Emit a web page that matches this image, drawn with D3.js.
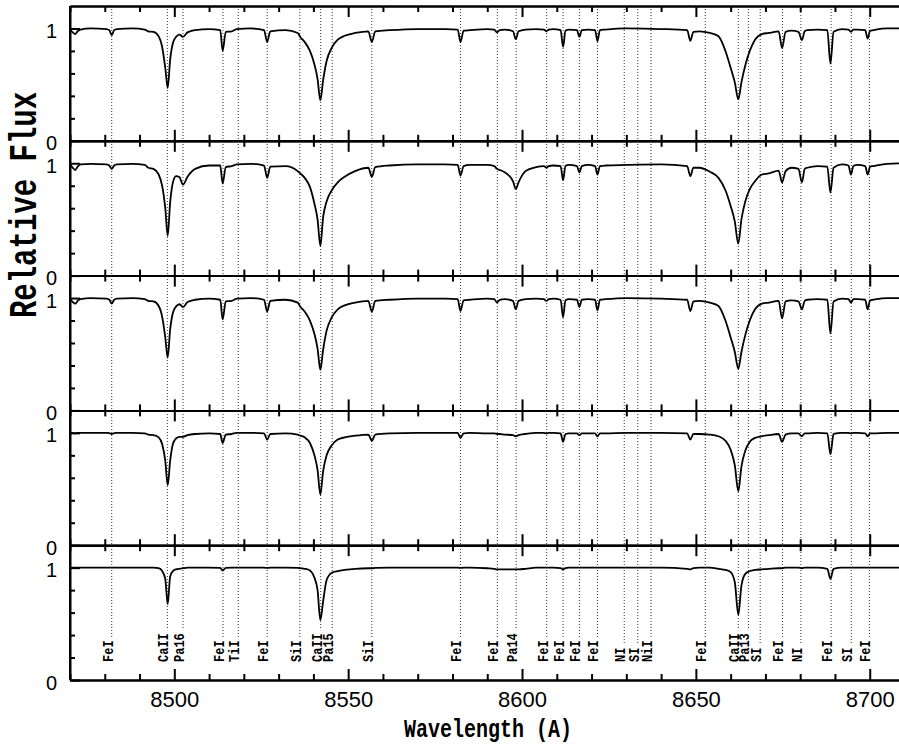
<!DOCTYPE html>
<html>
<head>
<meta charset="UTF-8">
<script src="https://d3js.org/d3.v7.min.js"></script>
<style>
  body { margin: 0; background: #fff; }
  .axis path, .axis line { stroke: #000; stroke-width: 2; }
  .axis text { font-family: "Liberation Sans", Arial, sans-serif; fill: #000; }
</style>
</head>
<body>
<svg id="chart" width="899" height="747"></svg>
<script>
// wavelength grid (A), shared by all five spectra
var wave = [8470, 8470.8, 8471.5, 8472.2, 8473, 8476, 8480.5, 8481.3, 8482, 8482.7,
  8483.5, 8488, 8491.5, 8492.5, 8494, 8495.5, 8496.5, 8497.4, 8498.1, 8498.8,
  8499.6, 8500.5, 8501.5, 8502.5, 8503.8, 8506, 8510, 8513.2, 8513.9, 8514.8,
  8516.5, 8518, 8522, 8525.8, 8526.7, 8527.6, 8532, 8535.5, 8536.2, 8537.5,
  8539, 8540.3, 8541.2, 8542, 8542.8, 8543.8, 8545.3, 8547, 8549, 8552,
  8555.8, 8556.8, 8557.8, 8562, 8570, 8578, 8581.5, 8582.3, 8583.2, 8585,
  8590, 8592, 8592.8, 8593.6, 8595, 8597.4, 8598.2, 8599, 8601, 8604,
  8606.3, 8607, 8607.7, 8609, 8611.1, 8611.8, 8612.5, 8613.5, 8615.8, 8616.5,
  8617.2, 8619, 8621, 8621.7, 8622.4, 8624, 8630, 8640, 8647.5, 8648.4,
  8649.3, 8651, 8654, 8656.5, 8658.5, 8660, 8661.2, 8662.2, 8663.1, 8664.2,
  8665.5, 8667, 8669, 8671, 8673.8, 8674.8, 8675.8, 8677.5, 8679.5, 8680.5,
  8681.3, 8682, 8685, 8687.8, 8688.7, 8689.6, 8692, 8693.9, 8694.6, 8695.3,
  8696.5, 8698.7, 8699.4, 8700.1, 8701, 8705, 8710];

// relative flux, top panel to bottom panel
var flux1 = [0.99, 0.965, 0.95, 0.975, 0.99, 1.0, 0.995, 0.985, 0.94, 0.985,
  0.995, 1.0, 0.99, 0.975, 0.97, 0.93, 0.835, 0.65, 0.47, 0.72,
  0.87, 0.925, 0.945, 0.925, 0.965, 0.985, 0.995, 0.985, 0.8, 0.97,
  0.975, 0.995, 1.0, 0.985, 0.88, 0.975, 0.985, 0.96, 0.925, 0.88,
  0.8, 0.68, 0.55, 0.36, 0.54, 0.71, 0.83, 0.9, 0.935, 0.96,
  0.975, 0.88, 0.975, 0.985, 0.995, 0.995, 0.99, 0.88, 0.98, 0.985,
  0.995, 0.99, 0.965, 0.985, 0.99, 0.975, 0.905, 0.975, 0.99, 0.995,
  0.99, 0.975, 0.99, 0.995, 0.985, 0.836, 0.98, 0.99, 0.985, 0.925,
  0.985, 0.99, 0.985, 0.887, 0.985, 0.99, 1.0, 0.995, 0.985, 0.89,
  0.97, 0.975, 0.96, 0.93, 0.8, 0.65, 0.52, 0.37, 0.52, 0.67,
  0.8, 0.9, 0.95, 0.96, 0.975, 0.827, 0.97, 0.98, 0.97, 0.896,
  0.975, 0.985, 0.99, 0.985, 0.687, 0.97, 0.995, 0.99, 0.97, 0.99,
  0.99, 0.985, 0.91, 0.98, 0.985, 1.0, 1.0];

var flux2 = [0.99, 0.96, 0.94, 0.97, 0.99, 0.995, 0.99, 0.98, 0.95, 0.98,
  0.99, 0.995, 0.985, 0.96, 0.95, 0.9, 0.8, 0.6, 0.353, 0.65,
  0.83, 0.885, 0.875, 0.81, 0.88, 0.95, 0.98, 0.98, 0.82, 0.965,
  0.975, 0.99, 0.995, 0.98, 0.87, 0.97, 0.975, 0.93, 0.91, 0.87,
  0.79, 0.64, 0.5, 0.264, 0.52, 0.66, 0.76, 0.83, 0.88, 0.93,
  0.96, 0.88, 0.965, 0.98, 0.99, 0.99, 0.985, 0.89, 0.975, 0.985,
  0.985, 0.975, 0.95, 0.94, 0.92, 0.84, 0.77, 0.83, 0.93, 0.965,
  0.975, 0.96, 0.975, 0.98, 0.975, 0.85, 0.975, 0.985, 0.975, 0.92,
  0.975, 0.985, 0.975, 0.9, 0.975, 0.98, 0.985, 0.99, 0.975, 0.885,
  0.96, 0.96, 0.925, 0.87, 0.76, 0.62, 0.48, 0.285, 0.5, 0.66,
  0.77, 0.84, 0.9, 0.91, 0.935, 0.83, 0.93, 0.96, 0.95, 0.83,
  0.95, 0.96, 0.975, 0.97, 0.74, 0.96, 0.99, 0.98, 0.9, 0.975,
  0.985, 0.975, 0.9, 0.97, 0.975, 0.995, 1.0];

var flux3 = [0.99, 0.965, 0.95, 0.975, 0.99, 1.0, 0.995, 0.985, 0.95, 0.985,
  0.995, 1.0, 0.99, 0.975, 0.97, 0.93, 0.835, 0.65, 0.47, 0.72,
  0.87, 0.925, 0.945, 0.92, 0.965, 0.985, 0.995, 0.985, 0.81, 0.97,
  0.975, 0.995, 1.0, 0.985, 0.88, 0.975, 0.985, 0.96, 0.925, 0.88,
  0.8, 0.68, 0.55, 0.362, 0.54, 0.71, 0.83, 0.9, 0.935, 0.96,
  0.975, 0.88, 0.975, 0.985, 0.995, 0.995, 0.99, 0.885, 0.98, 0.985,
  0.995, 0.99, 0.96, 0.985, 0.99, 0.975, 0.9, 0.975, 0.99, 0.995,
  0.99, 0.975, 0.99, 0.995, 0.985, 0.83, 0.98, 0.99, 0.985, 0.92,
  0.985, 0.99, 0.985, 0.89, 0.985, 0.99, 1.0, 0.995, 0.985, 0.885,
  0.97, 0.975, 0.96, 0.93, 0.8, 0.65, 0.52, 0.37, 0.52, 0.67,
  0.8, 0.9, 0.95, 0.96, 0.975, 0.82, 0.97, 0.98, 0.97, 0.9,
  0.975, 0.985, 0.99, 0.985, 0.685, 0.97, 0.995, 0.99, 0.96, 0.99,
  0.99, 0.985, 0.9, 0.98, 0.985, 1.0, 1.0];

var flux4 = [1.0, 1.0, 0.995, 1.0, 1.0, 1.0, 1.0, 0.998, 0.99, 0.998,
  1.0, 1.0, 0.995, 0.985, 0.98, 0.96, 0.9, 0.75, 0.534, 0.75,
  0.9, 0.95, 0.965, 0.965, 0.98, 0.99, 0.995, 0.99, 0.91, 0.985,
  0.99, 1.0, 1.0, 0.995, 0.94, 0.99, 0.995, 0.985, 0.975, 0.96,
  0.91, 0.8, 0.67, 0.45, 0.66, 0.8, 0.89, 0.94, 0.96, 0.975,
  0.985, 0.93, 0.985, 0.995, 1.0, 1.0, 1.0, 0.955, 0.995, 1.0,
  0.995, 0.995, 0.99, 0.99, 0.985, 0.98, 0.97, 0.98, 0.99, 1.0,
  1.0, 0.995, 1.0, 1.0, 0.995, 0.92, 0.99, 0.995, 0.995, 0.98,
  0.995, 0.995, 0.995, 0.97, 0.995, 0.995, 1.0, 1.0, 0.995, 0.94,
  0.99, 0.99, 0.985, 0.97, 0.93, 0.85, 0.71, 0.48, 0.7, 0.84,
  0.92, 0.955, 0.97, 0.98, 0.99, 0.92, 0.985, 0.995, 0.995, 0.97,
  0.995, 0.995, 1.0, 0.995, 0.81, 0.99, 1.0, 1.0, 0.995, 1.0,
  1.0, 0.995, 0.97, 0.995, 0.995, 1.0, 1.0];

var flux5 = [1.0, 1.0, 1.0, 1.0, 1.0, 1.0, 1.0, 1.0, 1.0, 1.0,
  1.0, 1.0, 1.0, 1.0, 1.0, 0.995, 0.97, 0.9, 0.674, 0.92,
  0.97, 0.985, 0.99, 0.995, 1.0, 1.0, 1.0, 0.998, 0.975, 0.998,
  1.0, 1.0, 1.0, 1.0, 0.998, 1.0, 1.0, 0.998, 0.995, 0.99,
  0.975, 0.91, 0.8, 0.534, 0.7, 0.89, 0.955, 0.97, 0.98, 0.99,
  0.995, 0.995, 0.998, 1.0, 1.0, 1.0, 1.0, 0.998, 1.0, 1.0,
  0.995, 0.99, 0.985, 0.985, 0.985, 0.985, 0.985, 0.985, 0.99, 1.0,
  1.0, 1.0, 1.0, 1.0, 0.995, 0.985, 0.995, 1.0, 1.0, 1.0,
  1.0, 1.0, 1.0, 1.0, 1.0, 1.0, 1.0, 1.0, 0.99, 0.985,
  0.995, 1.0, 1.0, 0.99, 0.98, 0.96, 0.87, 0.58, 0.84, 0.945,
  0.97, 0.98, 0.985, 0.99, 0.995, 0.995, 1.0, 1.0, 1.0, 0.995,
  1.0, 1.0, 1.0, 0.99, 0.9, 0.99, 1.0, 1.0, 1.0, 1.0,
  1.0, 1.0, 1.0, 1.0, 1.0, 1.0, 1.0];

var spectra = [flux1, flux2, flux3, flux4, flux5];

// identified lines
var lineWave = [8482.0, 8498.0, 8502.5, 8514.0, 8518.4, 8526.7, 8536.1, 8542.1, 8545.4, 8556.8,
  8582.3, 8592.9, 8598.3, 8607.1, 8611.8, 8616.5, 8621.7, 8629.4, 8633.3, 8637.1,
  8652.7, 8662.2, 8665.1, 8668.5, 8674.9, 8680.2, 8688.9, 8694.7, 8699.9];
var lineName = ["FeI", "CaII", "Pa16", "FeI", "TiI", "FeI", "SiI", "CaII", "Pa15", "SiI",
  "FeI", "FeI", "Pa14", "FeI", "FeI", "FeI", "FeI", "NI", "SI", "NiI",
  "FeI", "CaII", "Pa13", "SI", "FeI", "NI", "FeI", "SI", "FeI"];

var majorTicks = [8500, 8550, 8600, 8650, 8700];
var minorTicks = d3.range(8470, 8711, 10).filter(function(d) { return d % 50 != 0; });
var fluxMinor = [0.2, 0.4, 0.6, 0.8];
var fluxMajor = [0, 1];

var svg = d3.select("#chart");
var plotLeft = 70, plotRight = 904.5, plotTop = 6, plotBottom = 680;
var nPanel = spectra.length;
var panelH = (plotBottom - plotTop) / nPanel;

var x = d3.scaleLinear().domain([8470, 8710]).range([plotLeft, plotRight]);

// dotted line markers go first, below everything
var markers = svg.append("g");

spectra.forEach(function(flux, i) {
  var y0 = plotTop + i * panelH, y1 = plotTop + (i + 1) * panelH;
  var y = d3.scaleLinear().domain([0, 1.2]).range([y1, y0]);
  var g = svg.append("g");

  var line = d3.line()
    .x(function(d, k) { return x(wave[k]); })
    .y(function(d) { return y(d); })
    .curve(d3.curveMonotoneX);

  g.append("path")
    .datum(flux)
    .attr("d", line)
    .attr("fill", "none")
    .attr("stroke", "#000")
    .attr("stroke-width", 1.8)
    .attr("stroke-linejoin", "round");

  // ticks along the panel's top and bottom edges, pointing inward
  g.append("g").attr("class", "axis").attr("transform", "translate(0," + y0 + ")")
    .call(d3.axisTop(x).tickValues(minorTicks).tickSize(-6).tickSizeOuter(0).tickFormat(""));
  g.append("g").attr("class", "axis").attr("transform", "translate(0," + y0 + ")")
    .call(d3.axisTop(x).tickValues(majorTicks).tickSize(-11).tickSizeOuter(0).tickFormat(""));
  g.append("g").attr("class", "axis").attr("transform", "translate(0," + y1 + ")")
    .call(d3.axisBottom(x).tickValues(minorTicks).tickSize(-6).tickSizeOuter(0).tickFormat(""));
  var xb = g.append("g").attr("class", "axis").attr("transform", "translate(0," + y1 + ")")
    .call(d3.axisBottom(x).tickValues(majorTicks).tickSize(-11).tickSizeOuter(0)
      .tickPadding(11).tickFormat(i == nPanel - 1 ? d3.format("d") : ""));
  xb.selectAll("text").attr("font-size", 22);

  // flux axis
  g.append("g").attr("class", "axis").attr("transform", "translate(" + plotLeft + ",0)")
    .call(d3.axisLeft(y).tickValues(fluxMinor).tickSize(-5).tickSizeOuter(0).tickFormat(""));
  var ya = g.append("g").attr("class", "axis").attr("transform", "translate(" + plotLeft + ",0)")
    .call(d3.axisLeft(y).tickValues(fluxMajor).tickSize(-10).tickSizeOuter(0)
      .tickPadding(13).tickFormat(d3.format("d")));
  ya.selectAll("text").attr("font-size", 20).attr("dy", "0.45em");
  ya.select(".domain").remove();
  g.append("line")
    .attr("x1", plotLeft).attr("x2", plotLeft).attr("y1", y0).attr("y2", y1)
    .attr("stroke", "#000").attr("stroke-width", 2);
});

// line labels in the bottom panel, and dotted markers ending above them
var labelBase = 662;
lineWave.forEach(function(w, k) {
  var t = svg.append("text")
    .attr("transform", "translate(" + (x(w) + 1) + "," + labelBase + ") rotate(-90) scale(1,1.25)")
    .attr("font-family", "Liberation Mono, monospace")
    .attr("font-weight", "bold")
    .attr("font-size", 12)
    .text(lineName[k]);
  var len = t.node().getComputedTextLength();
  markers.append("line")
    .attr("x1", x(w)).attr("x2", x(w))
    .attr("y1", plotTop).attr("y2", labelBase - len - 3)
    .attr("stroke", "#333")
    .attr("stroke-width", 1)
    .attr("stroke-dasharray", "1,2");
});

svg.append("text")
  .attr("transform", "translate(36,205) rotate(-90) scale(1,1.35)")
  .attr("text-anchor", "middle")
  .attr("font-family", "Liberation Mono, monospace")
  .attr("font-weight", "bold")
  .attr("font-size", 29)
  .text("Relative Flux");

svg.append("text")
  .attr("transform", "translate(488,737) scale(1,1.3)")
  .attr("text-anchor", "middle")
  .attr("font-family", "Liberation Mono, monospace")
  .attr("font-weight", "bold")
  .attr("font-size", 20)
  .text("Wavelength (A)");
</script>
</body>
</html>
